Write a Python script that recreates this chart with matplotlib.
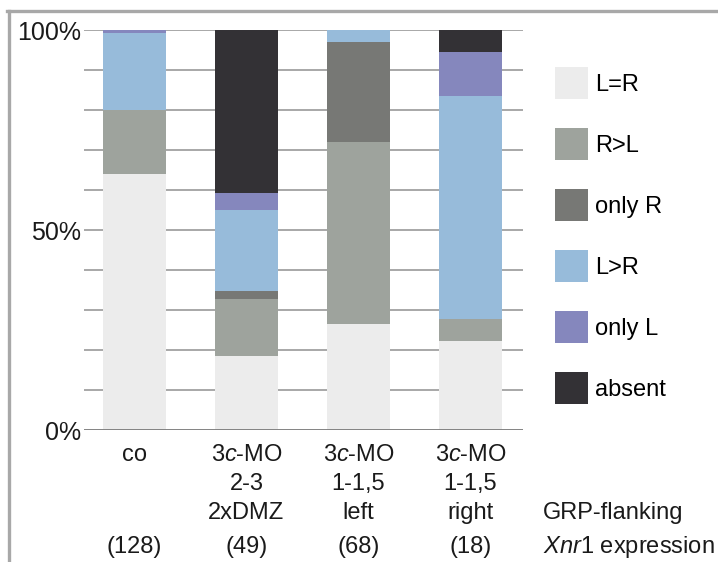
import numpy as np
import matplotlib
matplotlib.use("Agg")
import matplotlib.pyplot as plt
from matplotlib.lines import Line2D
from matplotlib.patches import Patch

plt.rcParams['font.family'] = ['Liberation Sans', 'DejaVu Sans']
plt.rcParams['mathtext.fontset'] = 'custom'
plt.rcParams['mathtext.rm'] = 'Liberation Sans'
plt.rcParams['mathtext.it'] = 'Liberation Sans:italic'

# groups (lines of label) and number of embryos
groups = [["co"],
          [r"$\it{3c}$-MO", "2-3", "2xDMZ"],
          [r"$\it{3c}$-MO", "1-1,5", "left"],
          [r"$\it{3c}$-MO", "1-1,5", "right"]]
counts = ["(128)", "(49)", "(68)", "(18)"]

# percentages per category, bottom to top
cats = ["L=R", "R>L", "only R", "L>R", "only L", "absent"]
LeqR   = [64.0, 18.4, 26.5, 22.2]
RgtL   = [16.0, 14.3, 45.6, 5.6]
onlyR  = [0.0, 2.0, 25.0, 0.0]
LgtR   = [19.2, 20.4, 2.9, 55.6]
onlyL  = [0.8, 4.1, 0.0, 11.1]
absent = [0.0, 40.8, 0.0, 5.6]
couleurs = ["#ececec", "#9ea39d", "#777875", "#97bbda", "#8587bd", "#333135"]

FS = 17
W, H = 718, 562
fig = plt.figure(figsize=(W/100, H/100), dpi=100)
ax = fig.add_axes([84/W, (H-430)/H, 439/W, 400/H])

x = np.arange(len(groups))
bas = np.zeros(len(groups))
series = [LeqR, RgtL, onlyR, LgtR, onlyL, absent]
for vals, c, nom in zip(series, couleurs, cats):
    ax.bar(x, vals, 0.5625, bottom=bas, color=c, zorder=2, label=nom)
    bas = bas + np.array(vals)

ax.set_xlim(-0.451, 3.469)
ax.set_ylim(0, 100)
for s in ax.spines.values():
    s.set_visible(False)
for yv in range(10, 101, 10):
    ax.axhline(yv, color="#9a9a9a", lw=1.2, zorder=1)
ax.axhline(0, color="#7a7a7a", lw=1.3, zorder=3)
ax.set_yticks([0, 50, 100])
ax.set_yticklabels(["0%", "50%", "100%"], fontsize=18, color="#1a1a1a")
ax.tick_params(axis="y", length=0, pad=2)
ax.set_xticks([])

tr = ax.get_xaxis_transform()
for i, lignes in enumerate(groups):
    for j, t in enumerate(lignes):
        ax.text(x[i], -0.0625 - j*0.0725, t, transform=tr, ha="center", va="center",
                fontsize=FS, color="#1a1a1a")
    ax.text(x[i], -0.2925, counts[i], transform=tr, ha="center", va="center",
            fontsize=FS, color="#1a1a1a")

handles = [Patch(facecolor=c, edgecolor="none") for c in couleurs]
fig.legend(handles, cats, loc="upper left",
           bbox_to_anchor=(555/W, (H-67)/H), frameon=False, fontsize=FS,
           handlelength=1.4, handleheight=1.71, labelspacing=1.23,
           handletextpad=0.3, borderpad=0, borderaxespad=0)

fig.text(543/W, (H-513)/H, "GRP-flanking", ha="left", va="center",
         fontsize=FS, color="#1a1a1a")
fig.text(543/W, (H-547)/H, r"$\it{Xnr1}$ expression", ha="left", va="center",
         fontsize=FS, color="#1a1a1a")

# cadre gris
fig.add_artist(Line2D([7/W, 1], [(H-11)/H, (H-11)/H], color="#a8a8a8", lw=2.4))
fig.add_artist(Line2D([8.5/W, 8.5/W], [0, (H-11)/H], color="#a8a8a8", lw=2.4))

fig.savefig("out.png", dpi=100)
